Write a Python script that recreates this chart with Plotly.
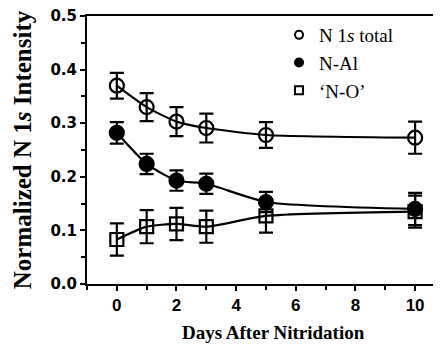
import plotly.graph_objects as go

days = [0, 1, 2, 3, 5, 10]
total = [0.370, 0.330, 0.303, 0.291, 0.278, 0.273]
total_err = [0.024, 0.026, 0.027, 0.027, 0.024, 0.030]
nal = [0.282, 0.224, 0.193, 0.187, 0.153, 0.140]
nal_err = [0.020, 0.019, 0.019, 0.019, 0.019, 0.030]
no = [0.083, 0.107, 0.112, 0.107, 0.127, 0.135]
no_err = [0.030, 0.031, 0.030, 0.030, 0.031, 0.030]
names = ["N 1<i>s</i> total", "N-Al", "\u2018N-O\u2019"]

fig = go.Figure()
series = [
    (total, total_err, "circle-open", 14),
    (nal, nal_err, "circle", 14),
    (no, no_err, "square-open", 13),
]
for (vals, err, sym, sz), nm in zip(series, names):
    fig.add_trace(go.Scatter(
        x=days, y=vals, mode="lines+markers", showlegend=False,
        line=dict(color="black", width=2.2, shape="spline", smoothing=0.6),
        marker=dict(symbol=sym, size=sz, color="black", line=dict(color="black", width=2.2)),
        error_y=dict(type="data", array=err, color="black", thickness=2.2, width=7),
    ))
for (vals, err, sym, sz), nm in zip(series, names):
    fig.add_trace(go.Scatter(
        x=[None], y=[None], mode="markers", name=nm,
        marker=dict(symbol=sym, size=8, color="black", line=dict(color="black", width=2)),
    ))

fig.update_layout(
    width=441, height=354,
    margin=dict(l=87, r=8, t=16, b=70),
    plot_bgcolor="white", paper_bgcolor="white",
    font=dict(family="Liberation Serif", color="black"),
    legend=dict(x=0.555, y=1.0, xanchor="left", yanchor="top",
                bgcolor="rgba(0,0,0,0)", font=dict(family="Liberation Serif", size=19),
                itemwidth=30, tracegroupgap=0),
    xaxis=dict(
        range=[-1, 10.6], tickvals=[0, 2, 4, 6, 8, 10],
        showgrid=False, zeroline=False, showline=True, linecolor="black", linewidth=2,
        mirror=True, ticks="outside", ticklen=5, tickwidth=1.5, tickcolor="black",
        minor=dict(tickvals=[-1, 1, 3, 5, 7, 9], ticks="outside", ticklen=4, tickcolor="black"),
        tickfont=dict(family="Liberation Sans", size=17, weight="bold"),
    ),
    yaxis=dict(
        range=[0, 0.5], tickvals=[0, 0.1, 0.2, 0.3, 0.4, 0.5], ticktext=["0.0", "0.1", "0.2", "0.3", "0.4", "0.5"],
        showgrid=False, zeroline=False, showline=True, linecolor="black", linewidth=2,
        ticks="outside", ticklen=5, tickwidth=1.5, tickcolor="black",
        minor=dict(tickvals=[0.05, 0.15, 0.25, 0.35, 0.45], ticks="outside", ticklen=4, tickcolor="black"),
        tickfont=dict(family="DejaVu Sans", size=15, weight="bold"),
        title=dict(text="<b>Normalized N 1<i>s</i> Intensity</b>", font=dict(family="Liberation Serif", size=25), standoff=12),
    ),
    annotations=[dict(
        text="<b>Days After Nitridation</b>", xref="paper", yref="paper",
        x=0.538, y=-0.18, xanchor="center", yanchor="middle", showarrow=False,
        font=dict(family="Liberation Serif", size=19, color="black"),
    )],
)
fig.write_html("out.html")
